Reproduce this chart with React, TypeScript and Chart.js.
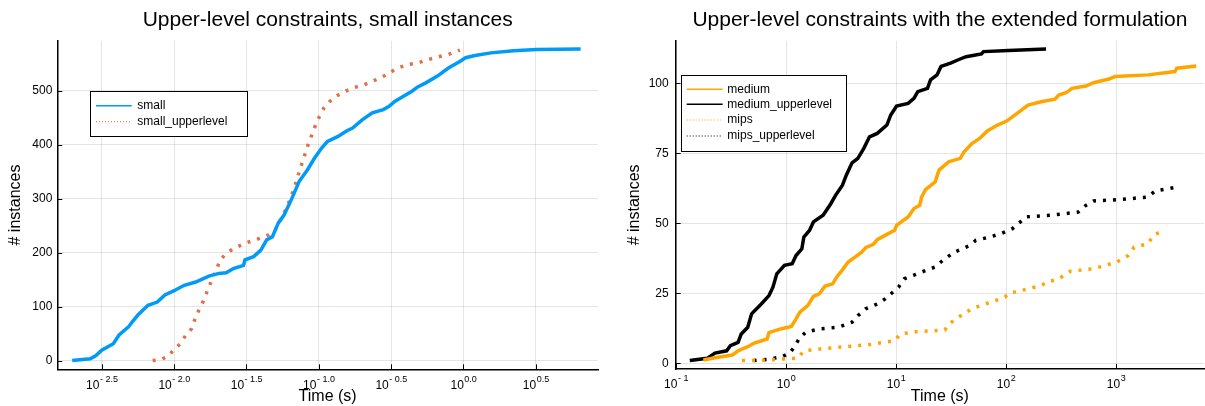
import React, { useEffect, useRef } from 'react';
import { Chart, registerables } from 'chart.js';

Chart.register(...registerables);

const FONT = '"Liberation Sans", Arial, Helvetica, sans-serif';

// ---------- Left chart: small instances (time as log10 seconds) ----------
const smallLogTime = [-2.704, -2.579, -2.54, -2.5, -2.42, -2.38, -2.315, -2.29, -2.25, -2.18, -2.116, -2.063, -2.0, -1.93, -1.85, -1.76, -1.69, -1.64, -1.59, -1.52, -1.51, -1.45, -1.4, -1.36, -1.32, -1.28, -1.24, -1.19, -1.136, -1.08, -1.03, -0.98, -0.94, -0.87, -0.805, -0.766, -0.7, -0.63, -0.554, -0.514, -0.475, -0.42, -0.356, -0.316, -0.263, -0.18, -0.104, -0.025, 0.015, 0.08, 0.19, 0.346, 0.505, 0.81];
const smallCount = [1, 4, 10, 20, 32, 48, 63, 72, 85, 103, 109, 122, 130, 140, 146, 157, 162, 163, 171, 177, 187, 193, 205, 224, 230, 255, 270, 298, 332, 353, 375, 394, 406, 415, 426, 431, 446, 459, 465, 471, 480, 489, 499, 507, 514, 527, 542, 554, 561, 565, 570, 574, 576, 577];

const smallUpperLogTime = [-2.148, -2.09, -2.042, -2.0, -1.957, -1.918, -1.878, -1.846, -1.81, -1.777, -1.745, -1.714, -1.68, -1.64, -1.587, -1.507, -1.428, -1.35, -1.3, -1.27, -1.23, -1.19, -1.163, -1.123, -1.097, -1.07, -1.044, -1.017, -0.99, -0.964, -0.924, -0.885, -0.832, -0.766, -0.686, -0.607, -0.527, -0.475, -0.395, -0.316, -0.263, -0.183, -0.104, -0.025];
const smallUpperCount = [1, 2.5, 9, 21, 32, 48, 60, 85, 103, 125, 146, 165, 187, 199, 208, 218, 225, 233, 243, 258, 279, 304, 326, 360, 381, 403, 421, 440, 455, 468, 480, 489, 497, 505, 511, 520, 530, 539, 548, 551, 556, 562, 567, 575];

const leftXTickExponents = [-2.5, -2.0, -1.5, -1.0, -0.5, 0.0, 0.5];
const leftXTickLabels = ['- 2.5', '- 2.0', '- 1.5', '- 1.0', '- 0.5', '0.0', '0.5'];
const leftYTicks = [0, 100, 200, 300, 400, 500];

// ---------- Right chart: extended formulation ----------
const mediumLogTime = [-0.752, -0.646, -0.488, -0.436, -0.33, -0.295, -0.172, -0.155, -0.049, 0.049, 0.091, 0.126, 0.197, 0.249, 0.302, 0.355, 0.425, 0.46, 0.513, 0.565, 0.636, 0.688, 0.724, 0.794, 0.829, 0.9, 0.987, 1.005, 1.11, 1.163, 1.215, 1.233, 1.268, 1.356, 1.391, 1.444, 1.479, 1.584, 1.619, 1.69, 1.76, 1.83, 1.918, 2.006, 2.058, 2.11, 2.2, 2.32, 2.445, 2.48, 2.55, 2.6, 2.726, 2.796, 2.936, 2.99, 3.29, 3.535, 3.553, 3.73];
const mediumCount = [1.2, 2, 3, 4.5, 6.3, 7.2, 8.7, 11, 12.3, 13.2, 15.9, 18.3, 20.6, 23.9, 24.8, 27.6, 28.4, 30.8, 33.4, 36.2, 38.2, 39.7, 41.3, 42.5, 44.2, 45.7, 47.5, 49.3, 52.3, 55.3, 56.4, 59.4, 62, 64.8, 69, 70.8, 72, 73.2, 75.5, 78.5, 80.3, 83, 85, 86.5, 88, 89.5, 92.2, 93.4, 94.3, 95.8, 96.7, 98.2, 99, 100.2, 101.5, 102.4, 103, 104.2, 105.4, 106.2];

const mediumUpperLogTime = [-0.875, -0.717, -0.646, -0.54, -0.506, -0.436, -0.407, -0.348, -0.313, -0.225, -0.155, -0.119, -0.084, -0.014, 0.056, 0.091, 0.144, 0.162, 0.214, 0.249, 0.337, 0.407, 0.45, 0.513, 0.548, 0.6, 0.653, 0.706, 0.759, 0.829, 0.917, 0.952, 1.005, 1.11, 1.163, 1.198, 1.286, 1.314, 1.373, 1.409, 1.496, 1.567, 1.637, 1.777, 1.795, 2.023, 2.364];
const mediumUpperCount = [1, 1.8, 3.7, 4.5, 6.3, 7.5, 10.5, 12.9, 17.7, 21.2, 24.2, 27.2, 32, 35, 35.6, 38.5, 40.9, 45.1, 47.5, 50.5, 52.9, 57, 60, 63.6, 67.2, 71.6, 73.2, 76.7, 80.9, 82.1, 85.1, 88.7, 91.9, 92.8, 94.6, 97, 98.2, 101.2, 103, 106, 107.2, 108.4, 109.5, 110.5, 111.3, 111.7, 112.2];

const mipsLogTime = [-0.4, -0.26, -0.049, 0.109, 0.162, 0.302, 0.548, 0.759, 0.987, 1.04, 1.18, 1.444, 1.479, 1.567, 1.69, 1.81, 1.99, 2.023, 2.2, 2.32, 2.374, 2.48, 2.585, 2.8, 2.9, 3.007, 3.11, 3.165, 3.29, 3.34, 3.43];
const mipsCount = [1, 1, 1.5, 1.9, 4.5, 5.1, 6, 6.7, 8.1, 10.5, 11.3, 11.9, 14, 16.5, 19.5, 21.2, 23.6, 25, 26.6, 27.8, 29, 30.2, 32.9, 33.8, 35, 36.2, 38.5, 41.5, 42.7, 45.7, 47.5];

const mipsUpperLogTime = [-0.295, -0.155, -0.032, 0.039, 0.091, 0.126, 0.18, 0.302, 0.478, 0.6, 0.653, 0.724, 0.829, 0.9, 0.97, 1.022, 1.075, 1.233, 1.356, 1.426, 1.53, 1.6, 1.672, 1.725, 1.848, 1.953, 2.058, 2.13, 2.18, 2.41, 2.655, 2.726, 2.796, 3.04, 3.29, 3.358, 3.535];
const mipsUpperCount = [1, 1.5, 2.4, 3.9, 6.9, 9.3, 11.1, 12.3, 12.9, 14.7, 17, 19.5, 21.2, 23, 25.4, 27.2, 30.2, 32.6, 34.4, 36.8, 39.7, 40.9, 42.1, 43.9, 45.1, 46.3, 48.1, 50.5, 52.3, 52.9, 54, 56.4, 58, 58.5, 59.4, 61.6, 62.8];

const rightXTickExponents = [-1, 0, 1, 2, 3];
const rightXTickLabels = ['- 1', '0', '1', '2', '3'];
const rightYTicks = [0, 25, 50, 75, 100];

const BLUE = '#009AF9';
const RED = '#E26F46';
const ORANGE = '#FFA500';
const BLACK = '#000000';
const DOTS = [3, 7];

function toPoints(logT: number[], counts: number[]) {
  return logT.map((lt, i) => ({ x: Math.pow(10, lt), y: counts[i] }));
}

const decorPlugin = {
  id: 'decor',
  afterDraw(chart: any, _args: any, opts: any) {
    const { ctx, chartArea: ca, scales } = chart;
    const xs = scales.x;
    const ys = scales.y;
    ctx.save();
    // title
    ctx.fillStyle = '#000';
    ctx.font = `${opts.titleSize}px ${FONT}`;
    ctx.textAlign = 'center';
    ctx.textBaseline = 'middle';
    ctx.fillText(opts.title, (ca.left + ca.right) / 2, opts.titleY);

    // inward tick marks
    ctx.strokeStyle = '#000';
    ctx.lineWidth = 1;
    ctx.beginPath();
    opts.xExps.forEach((e: number) => {
      const px = Math.round(xs.getPixelForValue(Math.pow(10, e))) + 0.5;
      ctx.moveTo(px, ca.bottom);
      ctx.lineTo(px, ca.bottom - 5);
    });
    opts.yTicks.forEach((v: number) => {
      const py = Math.round(ys.getPixelForValue(v)) + 0.5;
      ctx.moveTo(ca.left, py);
      ctx.lineTo(ca.left + 5, py);
    });
    ctx.stroke();

    // x tick labels with superscripts
    ctx.textAlign = 'left';
    opts.xExps.forEach((e: number, i: number) => {
      const px = xs.getPixelForValue(Math.pow(10, e));
      const sup = opts.xLabels[i];
      ctx.font = `12px ${FONT}`;
      const wb = ctx.measureText('10').width;
      ctx.font = `9px ${FONT}`;
      const ws = ctx.measureText(sup).width;
      const x0 = px - (wb + ws) / 2;
      ctx.font = `12px ${FONT}`;
      ctx.fillText('10', x0, opts.xLabelY);
      ctx.font = `9px ${FONT}`;
      ctx.fillText(sup, x0 + wb + 0.5, opts.xLabelY - 6);
    });

    // legend
    const L = opts.legend;
    ctx.fillStyle = '#fff';
    ctx.fillRect(L.x, L.y, L.w, L.h);
    ctx.strokeStyle = '#000';
    ctx.lineWidth = 1;
    ctx.strokeRect(Math.round(L.x) + 0.5, Math.round(L.y) + 0.5, Math.round(L.w), Math.round(L.h));
    chart.data.datasets.forEach((ds: any, i: number) => {
      const y = L.rowY[i];
      ctx.beginPath();
      ctx.strokeStyle = ds.borderColor;
      ctx.lineWidth = ds.borderDash ? 1 : 1.5;
      ctx.setLineDash(ds.borderDash ? [1, 2] : []);
      ctx.moveTo(L.lineX0, y);
      ctx.lineTo(L.lineX1, y);
      ctx.stroke();
      ctx.setLineDash([]);
      ctx.fillStyle = '#000';
      ctx.font = `12px ${FONT}`;
      ctx.textBaseline = 'middle';
      ctx.fillText(ds.label, L.textX, y);
    });
    ctx.restore();
  },
};

function baseScales(opts: {
  xMin: number; xMax: number; xExps: number[]; xHeight: number;
  yMin: number; yMax: number; yTicks: number[]; yWidth: number; yPad: number; yTitlePad: number;
}) {
  const grid = { color: 'rgba(0,0,0,0.10)', lineWidth: 1, drawTicks: false };
  const border = { display: true, color: '#000', width: 1.5 };
  return {
    x: {
      type: 'logarithmic',
      min: Math.pow(10, opts.xMin),
      max: Math.pow(10, opts.xMax),
      afterBuildTicks: (s: any) => {
        s.ticks = opts.xExps.map((e) => ({ value: Math.pow(10, e) }));
      },
      ticks: { display: false },
      grid,
      border,
      title: { display: true, text: 'Time (s)', color: '#000', font: { family: FONT, size: 16 }, padding: 0 },
      afterFit: (s: any) => {
        s.height = opts.xHeight;
      },
    },
    y: {
      type: 'linear',
      min: opts.yMin,
      max: opts.yMax,
      afterBuildTicks: (s: any) => {
        s.ticks = opts.yTicks.map((v) => ({ value: v }));
      },
      ticks: { color: '#000', font: { family: FONT, size: 12 }, padding: opts.yPad },
      grid,
      border,
      title: { display: true, text: '# instances', color: '#000', font: { family: FONT, size: 16 }, padding: { top: opts.yTitlePad, bottom: 0 } },
      afterFit: (s: any) => {
        s.width = opts.yWidth;
      },
    },
  };
}

function LeftChart() {
  const ref = useRef<HTMLCanvasElement>(null);
  useEffect(() => {
    const chart = new Chart(ref.current as HTMLCanvasElement, {
      type: 'line',
      data: {
        datasets: [
          { label: 'small', data: toPoints(smallLogTime, smallCount), borderColor: BLUE, borderWidth: 3.5, pointRadius: 0, fill: false, tension: 0 },
          { label: 'small_upperlevel', data: toPoints(smallUpperLogTime, smallUpperCount), borderColor: RED, borderWidth: 3.5, borderDash: DOTS, pointRadius: 0, fill: false, tension: 0 },
        ],
      } as any,
      options: {
        animation: false,
        responsive: false,
        maintainAspectRatio: false,
        layout: { padding: { top: 40.7, right: 2, bottom: 0, left: 0 } },
        plugins: {
          legend: { display: false },
          title: { display: false },
          tooltip: { enabled: false },
          decor: {
            title: 'Upper-level constraints, small instances',
            titleSize: 21,
            titleY: 20,
            xExps: leftXTickExponents,
            xLabels: leftXTickLabels,
            yTicks: leftYTicks,
            xLabelY: 386,
            legend: { x: 90, y: 91, w: 157, h: 45, rowY: [105.7, 121.7], lineX0: 96, lineX1: 131.7, textX: 137.3 },
          },
        } as any,
        scales: baseScales({
          xMin: -2.807, xMax: 0.93, xExps: leftXTickExponents, xHeight: 36.7,
          yMin: -15.4, yMax: 592.5, yTicks: leftYTicks, yWidth: 57.3, yPad: 5, yTitlePad: 6,
        }) as any,
      },
      plugins: [decorPlugin],
    });
    return () => chart.destroy();
  }, []);
  return <canvas ref={ref} width={600} height={406} style={{ position: 'absolute', left: 0, top: 0, width: 600, height: 406 }} />;
}

function RightChart() {
  const ref = useRef<HTMLCanvasElement>(null);
  useEffect(() => {
    const chart = new Chart(ref.current as HTMLCanvasElement, {
      type: 'line',
      data: {
        datasets: [
          { label: 'medium', data: toPoints(mediumLogTime, mediumCount), borderColor: ORANGE, borderWidth: 3.5, pointRadius: 0, fill: false, tension: 0 },
          { label: 'medium_upperlevel', data: toPoints(mediumUpperLogTime, mediumUpperCount), borderColor: BLACK, borderWidth: 3.5, pointRadius: 0, fill: false, tension: 0 },
          { label: 'mips', data: toPoints(mipsLogTime, mipsCount), borderColor: ORANGE, borderWidth: 3.5, borderDash: DOTS, pointRadius: 0, fill: false, tension: 0 },
          { label: 'mips_upperlevel', data: toPoints(mipsUpperLogTime, mipsUpperCount), borderColor: BLACK, borderWidth: 3.5, borderDash: DOTS, pointRadius: 0, fill: false, tension: 0 },
        ],
      } as any,
      options: {
        animation: false,
        responsive: false,
        maintainAspectRatio: false,
        layout: { padding: { top: 40.7, right: 1, bottom: 0, left: 0 } },
        plugins: {
          legend: { display: false },
          title: { display: false },
          tooltip: { enabled: false },
          decor: {
            title: 'Upper-level constraints with the extended formulation',
            titleSize: 21,
            titleY: 20,
            xExps: rightXTickExponents,
            xLabels: rightXTickLabels,
            yTicks: rightYTicks,
            xLabelY: 385,
            legend: { x: 80.7, y: 75, w: 165.3, h: 76, rowY: [89.3, 104.3, 120, 136], lineX0: 86.7, lineX1: 122.7, textX: 127.3 },
          },
        } as any,
        scales: baseScales({
          xMin: -1.003, xMax: 3.8, xExps: rightXTickExponents, xHeight: 37,
          yMin: -2.0, yMax: 115.2, yTicks: rightYTicks, yWidth: 75.7, yPad: 7, yTitlePad: 25,
        }) as any,
      },
      plugins: [decorPlugin],
    });
    return () => chart.destroy();
  }, []);
  return <canvas ref={ref} width={605} height={406} style={{ position: 'absolute', left: 600, top: 0, width: 605, height: 406 }} />;
}

export default function App() {
  return (
    <div style={{ position: 'absolute', left: 0, top: 0, width: 1205, height: 406, background: '#fff' }}>
      <LeftChart />
      <RightChart />
    </div>
  );
}
